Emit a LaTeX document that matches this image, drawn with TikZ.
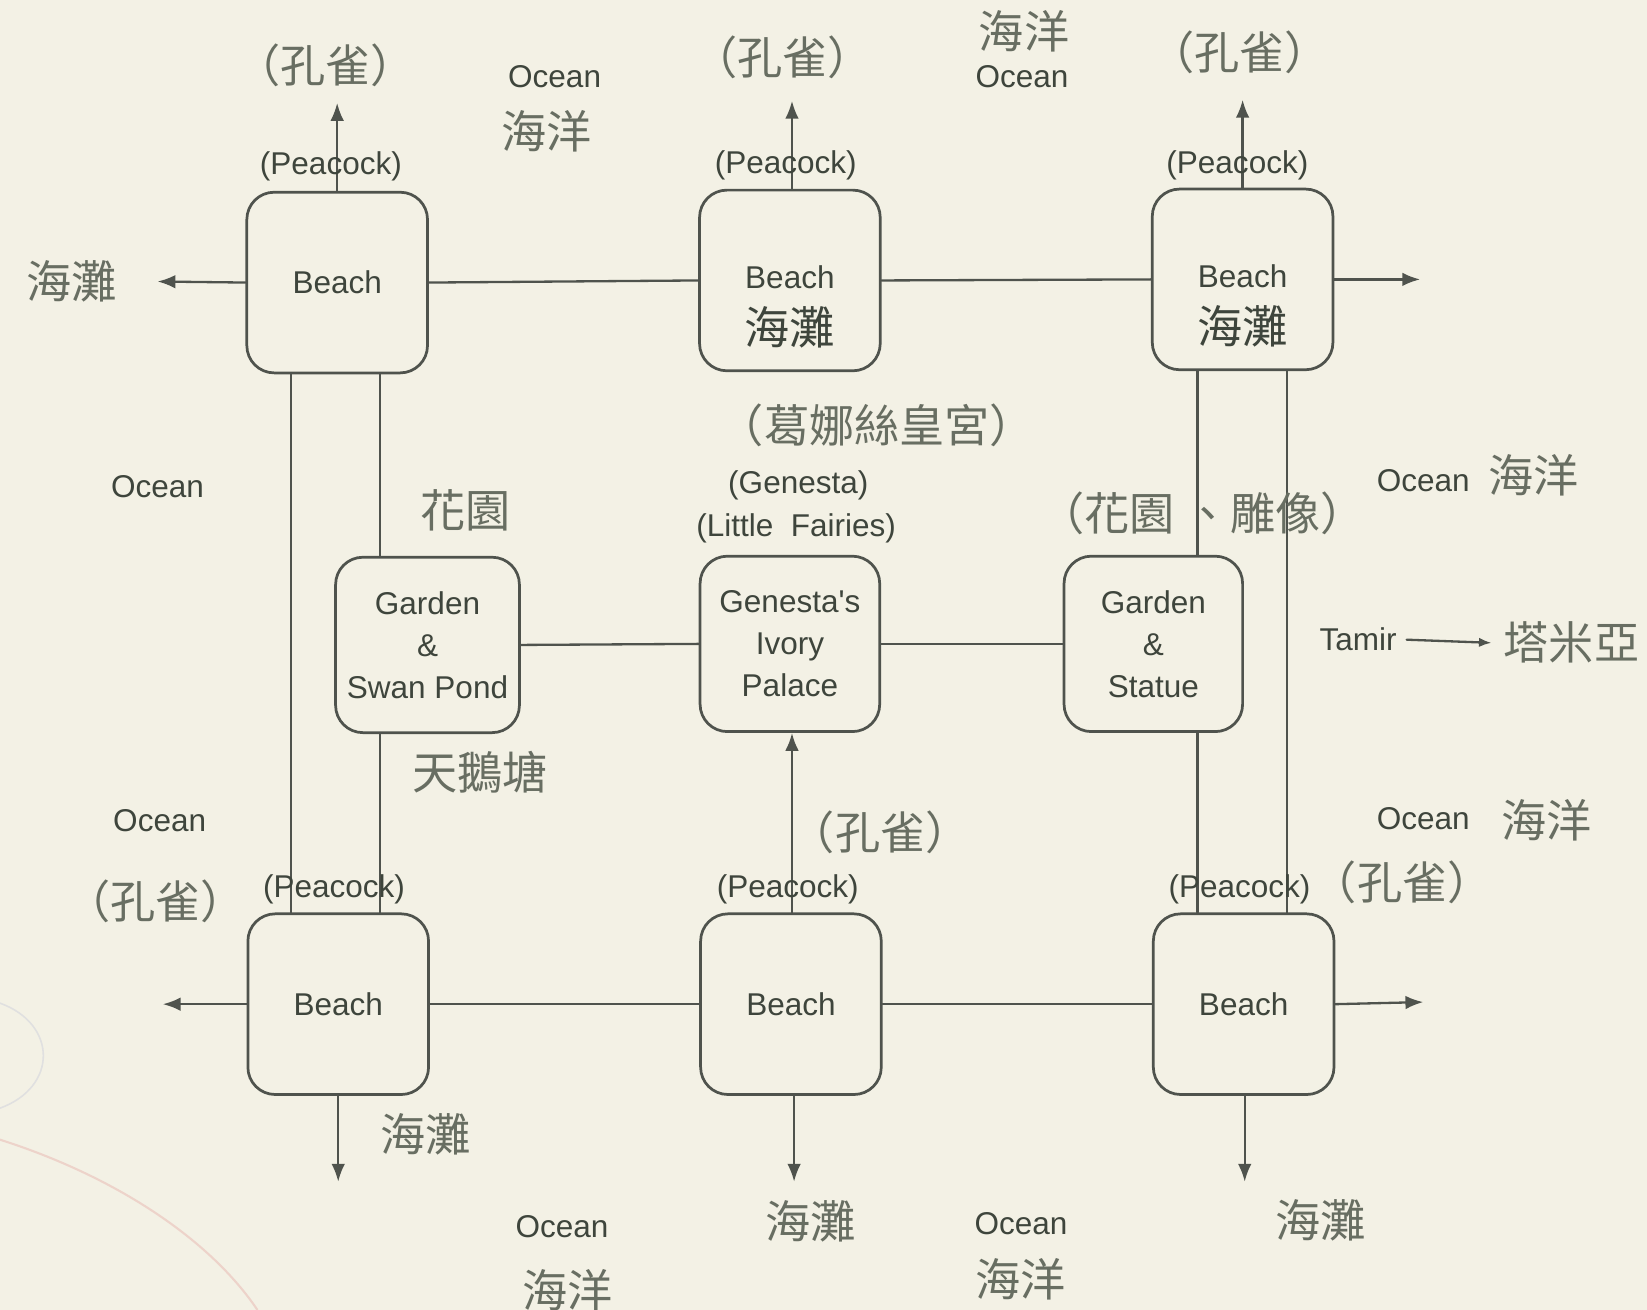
\documentclass[tikz,border=0pt]{standalone}
\usepackage{fontspec}
\setmainfont{Liberation Sans}
\newfontfamily\plainsans{Liberation Sans}
\newfontfamily\cjk{Noto Sans CJK TC}
\usetikzlibrary{arrows.meta,positioning}
\definecolor{mapPaper}{HTML}{F3F1E5}
\definecolor{mapInk}{HTML}{3E453C}
\definecolor{mapLine}{HTML}{4F534D}
\definecolor{mapSoft}{HTML}{686E62}
\definecolor{mapPink}{HTML}{EDD3CA}
\begin{document}
\begin{tikzpicture}[x=1pt,y=-1pt,>=Latex,line cap=round,line join=round]
\path[fill=mapPaper] (0,0) rectangle (1568,1247);
\useasboundingbox (0,0) rectangle (1568,1247);
\tikzset{spot/.style={draw=mapLine,line width=2.6pt,rounded corners=26pt,minimum width=172pt,minimum height=172pt,align=center,text=mapInk,font=\plainsans\fontsize{30}{40}\selectfont,inner sep=0pt},midspot/.style={spot,minimum height=167pt},wire/.style={draw=mapLine,line width=2.2pt},exit/.style={wire,-{Latex[length=17pt,width=13pt]}},entext/.style={text=mapInk,font=\fontsize{30}{32}\selectfont},zhtext/.style={text=mapSoft,font=\cjk\fontsize{43}{46}\selectfont}}
% scan marks
\draw[mapPink,line width=2pt] (0,1085) .. controls (110,1120) and (200,1180) .. (245,1247);
\draw[black!12,line width=1.5pt] (0,955) .. controls (55,975) and (55,1035) .. (0,1055);
% places
\node[spot] (b1) at (321,269) {Beach};
\node[spot] (b2) at (752,267) {\rule{0pt}{72pt}Beach\\[14pt]{\cjk\fontsize{43}{46}\selectfont 海灘}};
\node[spot] (b3) at (1183,266) {\rule{0pt}{72pt}Beach\\[14pt]{\cjk\fontsize{43}{46}\selectfont 海灘}};
\node[midspot,minimum width=175pt] (g1) at (407,614) {Garden\\\&\\Swan Pond};
\node[midspot,minimum width=171pt] (pal) at (752,613) {Genesta's\\Ivory\\Palace};
\node[midspot,minimum width=170pt] (g2) at (1098,613) {Garden\\\&\\Statue};
\node[spot] (b4) at (322,956) {Beach};
\node[spot] (b5) at (753,956) {Beach};
\node[spot] (b6) at (1184,956) {Beach};
% free ends
\coordinate (w1) at (150,268); \coordinate (n1) at (321,98);
\coordinate (n2) at (754,96); \coordinate (n3) at (1183,95);
\coordinate (e3) at (1352,266); \coordinate (w4) at (155,956);
\coordinate (s4) at (322,1125); \coordinate (s5) at (756,1125);
\coordinate (e6) at (1355,954); \coordinate (s6) at (1185,1125);
\coordinate (lxa) at (277,0); \coordinate (lxb) at (362,0);
\coordinate (rxa) at (1140,0); \coordinate (rxb) at (1225,0);
% paths
\draw[wire] (b1.east) -- (b2.west);
\draw[wire] (b2.east) -- (b3.west);
\draw[wire] (b4.east) -- (b5.west);
\draw[wire] (b5.east) -- (b6.west);
\draw[wire] (g1.east) -- (pal.west);
\draw[wire] (pal.east) -- (g2.west);
\draw[wire] (b1.south -| lxa) -- (b4.north -| lxa);
\draw[wire] (b1.south -| lxb) -- (g1.north -| lxb);
\draw[wire] (g1.south -| lxb) -- (b4.north -| lxb);
\draw[wire] (b3.south -| rxa) -- (g2.north -| rxa);
\draw[wire] (g2.south -| rxa) -- (b6.north -| rxa);
\draw[wire] (b3.south -| rxb) -- (b6.north -| rxb);
\draw[exit] (b5.north -| n2) -- (pal.south -| n2);
\draw[exit] (b1.west) -- (w1);
\draw[exit] (b1.north) -- (n1);
\draw[exit] (b2.north -| n2) -- (n2);
\draw[exit] (b3.north) -- (n3);
\draw[exit] (b3.east) -- (e3);
\draw[exit] (b4.west) -- (w4);
\draw[exit] (b4.south) -- (s4);
\draw[exit] (b5.south -| s5) -- (s5);
\draw[exit] (b6.east) -- (e6);
\draw[exit] (b6.south -| s6) -- (s6);
% labels
\node[zhtext] (pk1) at (310,62) {（孔雀）};
\node[entext] (pe1) at (315,158) {(Peacock)};
\node[entext] (oc1) at (528,73) {Ocean};
\node[zhtext] (hy1) at (520,125) {海洋};
\node[zhtext] (pk2) at (745,55) {（孔雀）};
\node[entext] (pe2) at (748,157) {(Peacock)};
\node[zhtext] (hy2) at (975,30) {海洋};
\node[entext] (oc2) at (973,73) {Ocean};
\node[zhtext] (pk3) at (1180,50) {（孔雀）};
\node[entext] (pe3) at (1178,157) {(Peacock)};
\node[zhtext] (ht1) at (68,268) {海灘};
\node[zhtext] (gps) at (835,405) {（葛娜絲皇宮）};
\node[entext] (oc3) at (150,463) {Ocean};
\node[entext] (gen) at (760,462) {(Genesta)};
\node[zhtext] (hua) at (443,486) {花園};
\node[entext] (fai) at (758,503) {(Little~~Fairies)};
\node[zhtext] (hdx) at (1145,489) {（花園 、雕像）};
\node[entext] (oc4) at (1355,458) {Ocean};
\node[zhtext] (hy4) at (1460,452) {海洋};
\node[entext] (tm) at (1293,609) {Tamir};
\node[zhtext,anchor=west] (tmy) at (1428,612) {塔米亞};
\draw[wire,-{Latex[length=12pt,width=9pt]}] ([xshift=6pt]tm.east) -- ([xshift=-8pt]tmy.west);
\node[zhtext] (swan) at (457,735) {天鵝塘};
\node[entext] (oc5) at (152,781) {Ocean};
\node[zhtext] (pk4) at (838,792) {（孔雀）};
\node[entext] (oc6) at (1355,779) {Ocean};
\node[zhtext] (hy6) at (1472,781) {海洋};
\node[zhtext] (pk5) at (148,858) {（孔雀）};
\node[entext] (pe4) at (318,847) {(Peacock)};
\node[entext] (pe5) at (750,847) {(Peacock)};
\node[entext] (pe6) at (1180,847) {(Peacock)};
\node[zhtext] (pk6) at (1335,840) {（孔雀）};
\node[zhtext] (ht4) at (405,1080) {海灘};
\node[entext] (oc7) at (535,1168) {Ocean};
\node[zhtext] (hy7) at (540,1228) {海洋};
\node[zhtext] (ht5) at (772,1163) {海灘};
\node[entext] (oc8) at (972,1165) {Ocean};
\node[zhtext] (hy8) at (972,1218) {海洋};
\node[zhtext] (ht6) at (1257,1162) {海灘};
\end{tikzpicture}
\end{document}
